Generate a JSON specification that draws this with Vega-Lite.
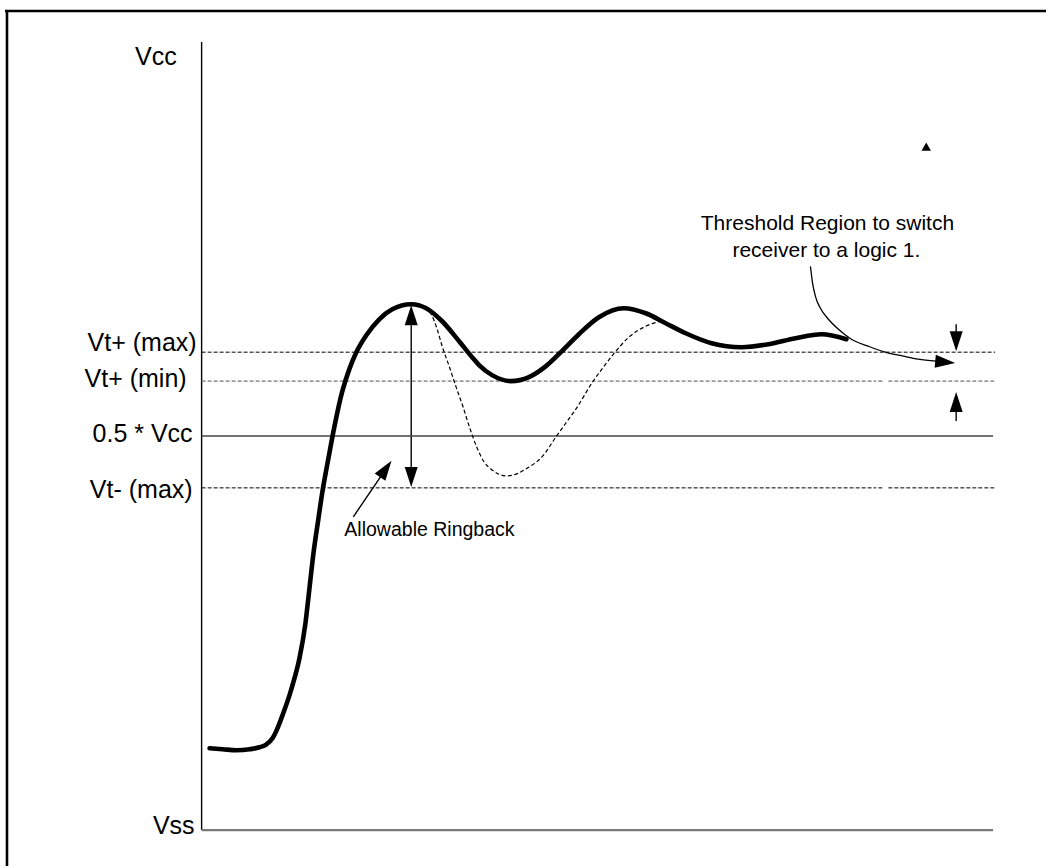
{
  "$schema": "https://vega.github.io/schema/vega-lite/v6.json",
  "width": 1048,
  "height": 868,
  "autosize": {"type": "fit", "contains": "padding"},
  "padding": 0,
  "background": "white",
  "config": {"view": {"stroke": null}},
  "layer": [
    {
      "data": {"values": [
        {"x": 5, "y": 11, "x2": 1048, "y2": 11},
        {"x": 7, "y": 10, "x2": 7, "y2": 868}
      ]},
      "mark": {"type": "rule", "color": "black", "strokeWidth": 2.6},
      "encoding": {
        "x": {"field": "x", "type": "quantitative", "scale": {"domain": [0, 1048], "nice": false, "zero": false}, "axis": null},
        "y": {"field": "y", "type": "quantitative", "scale": {"domain": [0, 868], "reverse": true, "nice": false, "zero": false}, "axis": null},
        "x2": {"field": "x2"},
        "y2": {"field": "y2"}
      }
    },
    {
      "data": {"values": [
        {"x": 202, "y": 42, "x2": 202, "y2": 832},
        {"x": 412, "y": 326, "x2": 412, "y2": 468},
        {"x": 354, "y": 518, "x2": 386, "y2": 471},
        {"x": 958, "y": 325, "x2": 958, "y2": 334},
        {"x": 958, "y": 412, "x2": 958, "y2": 422}
      ]},
      "mark": {"type": "rule", "color": "black", "strokeWidth": 1.4},
      "encoding": {
        "x": {"field": "x", "type": "quantitative", "scale": {"domain": [0, 1048], "nice": false, "zero": false}, "axis": null},
        "y": {"field": "y", "type": "quantitative", "scale": {"domain": [0, 868], "reverse": true, "nice": false, "zero": false}, "axis": null},
        "x2": {"field": "x2"},
        "y2": {"field": "y2"}
      }
    },
    {
      "data": {"values": [
        {"x": 202, "y": 832, "x2": 995, "y2": 832}
      ]},
      "mark": {"type": "rule", "color": "#7a7a7a", "strokeWidth": 2.2},
      "encoding": {
        "x": {"field": "x", "type": "quantitative", "scale": {"domain": [0, 1048], "nice": false, "zero": false}, "axis": null},
        "y": {"field": "y", "type": "quantitative", "scale": {"domain": [0, 868], "reverse": true, "nice": false, "zero": false}, "axis": null},
        "x2": {"field": "x2"},
        "y2": {"field": "y2"}
      }
    },
    {
      "data": {"values": [
        {"x": 202, "y": 437, "x2": 995, "y2": 437}
      ]},
      "mark": {"type": "rule", "color": "#444444", "strokeWidth": 1.4},
      "encoding": {
        "x": {"field": "x", "type": "quantitative", "scale": {"domain": [0, 1048], "nice": false, "zero": false}, "axis": null},
        "y": {"field": "y", "type": "quantitative", "scale": {"domain": [0, 868], "reverse": true, "nice": false, "zero": false}, "axis": null},
        "x2": {"field": "x2"},
        "y2": {"field": "y2"}
      }
    },
    {
      "data": {"values": [
        {"x": 202, "y": 353, "x2": 997, "y2": 353},
        {"x": 202, "y": 489, "x2": 878, "y2": 489},
        {"x": 880, "y": 489, "x2": 884, "y2": 489},
        {"x": 890, "y": 489, "x2": 997, "y2": 489}
      ]},
      "mark": {"type": "rule", "color": "black", "strokeWidth": 1, "strokeDash": [4, 2]},
      "encoding": {
        "x": {"field": "x", "type": "quantitative", "scale": {"domain": [0, 1048], "nice": false, "zero": false}, "axis": null},
        "y": {"field": "y", "type": "quantitative", "scale": {"domain": [0, 868], "reverse": true, "nice": false, "zero": false}, "axis": null},
        "x2": {"field": "x2"},
        "y2": {"field": "y2"}
      }
    },
    {
      "data": {"values": [
        {"x": 202, "y": 382, "x2": 878, "y2": 382},
        {"x": 880, "y": 382, "x2": 884, "y2": 382},
        {"x": 890, "y": 382, "x2": 997, "y2": 382}
      ]},
      "mark": {"type": "rule", "color": "#777777", "strokeWidth": 1.4, "strokeDash": [4, 2]},
      "encoding": {
        "x": {"field": "x", "type": "quantitative", "scale": {"domain": [0, 1048], "nice": false, "zero": false}, "axis": null},
        "y": {"field": "y", "type": "quantitative", "scale": {"domain": [0, 868], "reverse": true, "nice": false, "zero": false}, "axis": null},
        "x2": {"field": "x2"},
        "y2": {"field": "y2"}
      }
    },
    {
      "data": {"values": [
        {"x": 425, "y": 309}, {"x": 432, "y": 315}, {"x": 438, "y": 330}, {"x": 443, "y": 347},
        {"x": 450, "y": 367}, {"x": 457, "y": 388}, {"x": 464, "y": 408}, {"x": 470, "y": 427},
        {"x": 478, "y": 449}, {"x": 485, "y": 463}, {"x": 493, "y": 471}, {"x": 508, "y": 477},
        {"x": 520, "y": 474}, {"x": 527, "y": 470}, {"x": 543, "y": 458}, {"x": 557, "y": 438},
        {"x": 567, "y": 424}, {"x": 577, "y": 410}, {"x": 593, "y": 384}, {"x": 603, "y": 370},
        {"x": 613, "y": 357}, {"x": 630, "y": 338}, {"x": 647, "y": 327}, {"x": 662, "y": 322}
      ]},
      "mark": {"type": "line", "color": "black", "strokeWidth": 1.2, "strokeDash": [4, 2.5], "interpolate": "monotone"},
      "encoding": {
        "x": {"field": "x", "type": "quantitative", "scale": {"domain": [0, 1048], "nice": false, "zero": false}, "axis": null},
        "y": {"field": "y", "type": "quantitative", "scale": {"domain": [0, 868], "reverse": true, "nice": false, "zero": false}, "axis": null}
      }
    },
    {
      "data": {"values": [
        {"x": 210, "y": 750}, {"x": 223, "y": 751}, {"x": 237, "y": 752}, {"x": 250, "y": 751},
        {"x": 260, "y": 749}, {"x": 267, "y": 746}, {"x": 273, "y": 740}, {"x": 278, "y": 730},
        {"x": 283, "y": 717}, {"x": 290, "y": 697}, {"x": 295, "y": 680}, {"x": 300, "y": 660},
        {"x": 306, "y": 625}, {"x": 310, "y": 590}, {"x": 314, "y": 555}, {"x": 319, "y": 520},
        {"x": 323, "y": 493}, {"x": 328, "y": 465}, {"x": 333, "y": 438}, {"x": 343, "y": 392},
        {"x": 350, "y": 370}, {"x": 357, "y": 353}, {"x": 367, "y": 336}, {"x": 380, "y": 320},
        {"x": 393, "y": 310}, {"x": 412, "y": 305}, {"x": 427, "y": 309}, {"x": 443, "y": 322},
        {"x": 460, "y": 342}, {"x": 473, "y": 358}, {"x": 480, "y": 366}, {"x": 493, "y": 376},
        {"x": 512, "y": 382}, {"x": 530, "y": 378}, {"x": 547, "y": 367}, {"x": 563, "y": 352},
        {"x": 580, "y": 335}, {"x": 600, "y": 318}, {"x": 625, "y": 309}, {"x": 647, "y": 314},
        {"x": 667, "y": 324}, {"x": 687, "y": 334}, {"x": 713, "y": 344}, {"x": 743, "y": 348},
        {"x": 770, "y": 345}, {"x": 797, "y": 339}, {"x": 823, "y": 335}, {"x": 848, "y": 340}
      ]},
      "mark": {"type": "line", "color": "black", "strokeWidth": 4.6, "strokeCap": "round", "strokeJoin": "round", "interpolate": "monotone"},
      "encoding": {
        "x": {"field": "x", "type": "quantitative", "scale": {"domain": [0, 1048], "nice": false, "zero": false}, "axis": null},
        "y": {"field": "y", "type": "quantitative", "scale": {"domain": [0, 868], "reverse": true, "nice": false, "zero": false}, "axis": null}
      }
    },
    {
      "data": {"values": [
        {"x": 812, "y": 267}, {"x": 814, "y": 283}, {"x": 817, "y": 297}, {"x": 822, "y": 309},
        {"x": 830, "y": 320}, {"x": 840, "y": 330}, {"x": 853, "y": 340}, {"x": 870, "y": 347},
        {"x": 887, "y": 353}, {"x": 905, "y": 357}, {"x": 920, "y": 360}, {"x": 938, "y": 362}
      ]},
      "mark": {"type": "line", "color": "black", "strokeWidth": 1.3, "interpolate": "monotone"},
      "encoding": {
        "x": {"field": "x", "type": "quantitative", "scale": {"domain": [0, 1048], "nice": false, "zero": false}, "axis": null},
        "y": {"field": "y", "type": "quantitative", "scale": {"domain": [0, 868], "reverse": true, "nice": false, "zero": false}, "axis": null}
      }
    },
    {
      "data": {"values": [
        {"x": 412, "y": 316},
        {"x": 958, "y": 403}
      ]},
      "mark": {"type": "point", "shape": "M0,-1L0.65,1L-0.65,1Z", "size": 400, "filled": true, "color": "black", "opacity": 1, "angle": 0},
      "encoding": {
        "x": {"field": "x", "type": "quantitative", "scale": {"domain": [0, 1048], "nice": false, "zero": false}, "axis": null},
        "y": {"field": "y", "type": "quantitative", "scale": {"domain": [0, 868], "reverse": true, "nice": false, "zero": false}, "axis": null}
      }
    },
    {
      "data": {"values": [
        {"x": 412, "y": 478},
        {"x": 958, "y": 342}
      ]},
      "mark": {"type": "point", "shape": "M0,-1L0.65,1L-0.65,1Z", "size": 400, "filled": true, "color": "black", "opacity": 1, "angle": 180},
      "encoding": {
        "x": {"field": "x", "type": "quantitative", "scale": {"domain": [0, 1048], "nice": false, "zero": false}, "axis": null},
        "y": {"field": "y", "type": "quantitative", "scale": {"domain": [0, 868], "reverse": true, "nice": false, "zero": false}, "axis": null}
      }
    },
    {
      "data": {"values": [
        {"x": 386.5, "y": 470}
      ]},
      "mark": {"type": "point", "shape": "M0,-1L0.65,1L-0.65,1Z", "size": 400, "filled": true, "color": "black", "opacity": 1, "angle": 35},
      "encoding": {
        "x": {"field": "x", "type": "quantitative", "scale": {"domain": [0, 1048], "nice": false, "zero": false}, "axis": null},
        "y": {"field": "y", "type": "quantitative", "scale": {"domain": [0, 868], "reverse": true, "nice": false, "zero": false}, "axis": null}
      }
    },
    {
      "data": {"values": [
        {"x": 947, "y": 363}
      ]},
      "mark": {"type": "point", "shape": "M0,-1L0.65,1L-0.65,1Z", "size": 400, "filled": true, "color": "black", "opacity": 1, "angle": 95},
      "encoding": {
        "x": {"field": "x", "type": "quantitative", "scale": {"domain": [0, 1048], "nice": false, "zero": false}, "axis": null},
        "y": {"field": "y", "type": "quantitative", "scale": {"domain": [0, 868], "reverse": true, "nice": false, "zero": false}, "axis": null}
      }
    },
    {
      "data": {"values": [
        {"x": 928, "y": 147}
      ]},
      "mark": {"type": "point", "shape": "triangle-up", "size": 90, "filled": true, "color": "black", "opacity": 1},
      "encoding": {
        "x": {"field": "x", "type": "quantitative", "scale": {"domain": [0, 1048], "nice": false, "zero": false}, "axis": null},
        "y": {"field": "y", "type": "quantitative", "scale": {"domain": [0, 868], "reverse": true, "nice": false, "zero": false}, "axis": null}
      }
    },
    {
      "data": {"values": [
        {"x": 177, "y": 57.5, "label": "Vcc"},
        {"x": 197, "y": 343.5, "label": "Vt+ (max)"},
        {"x": 187, "y": 380, "label": "Vt+ (min)"},
        {"x": 193, "y": 435, "label": "0.5 * Vcc"},
        {"x": 193, "y": 491.5, "label": "Vt- (max)"},
        {"x": 195, "y": 828, "label": "Vss"}
      ]},
      "mark": {"type": "text", "align": "right", "baseline": "middle", "font": "Liberation Sans", "fontSize": 25, "color": "black"},
      "encoding": {
        "x": {"field": "x", "type": "quantitative", "scale": {"domain": [0, 1048], "nice": false, "zero": false}, "axis": null},
        "y": {"field": "y", "type": "quantitative", "scale": {"domain": [0, 868], "reverse": true, "nice": false, "zero": false}, "axis": null},
        "text": {"field": "label"}
      }
    },
    {
      "data": {"values": [
        {"x": 829, "y": 225, "label": "Threshold Region to switch"},
        {"x": 828, "y": 252, "label": "receiver to a logic 1."}
      ]},
      "mark": {"type": "text", "align": "center", "baseline": "middle", "font": "Liberation Sans", "fontSize": 21, "color": "black"},
      "encoding": {
        "x": {"field": "x", "type": "quantitative", "scale": {"domain": [0, 1048], "nice": false, "zero": false}, "axis": null},
        "y": {"field": "y", "type": "quantitative", "scale": {"domain": [0, 868], "reverse": true, "nice": false, "zero": false}, "axis": null},
        "text": {"field": "label"}
      }
    },
    {
      "data": {"values": [
        {"x": 345, "y": 531.5, "label": "Allowable Ringback"}
      ]},
      "mark": {"type": "text", "align": "left", "baseline": "middle", "font": "Liberation Sans", "fontSize": 19.5, "color": "black"},
      "encoding": {
        "x": {"field": "x", "type": "quantitative", "scale": {"domain": [0, 1048], "nice": false, "zero": false}, "axis": null},
        "y": {"field": "y", "type": "quantitative", "scale": {"domain": [0, 868], "reverse": true, "nice": false, "zero": false}, "axis": null},
        "text": {"field": "label"}
      }
    }
  ]
}
